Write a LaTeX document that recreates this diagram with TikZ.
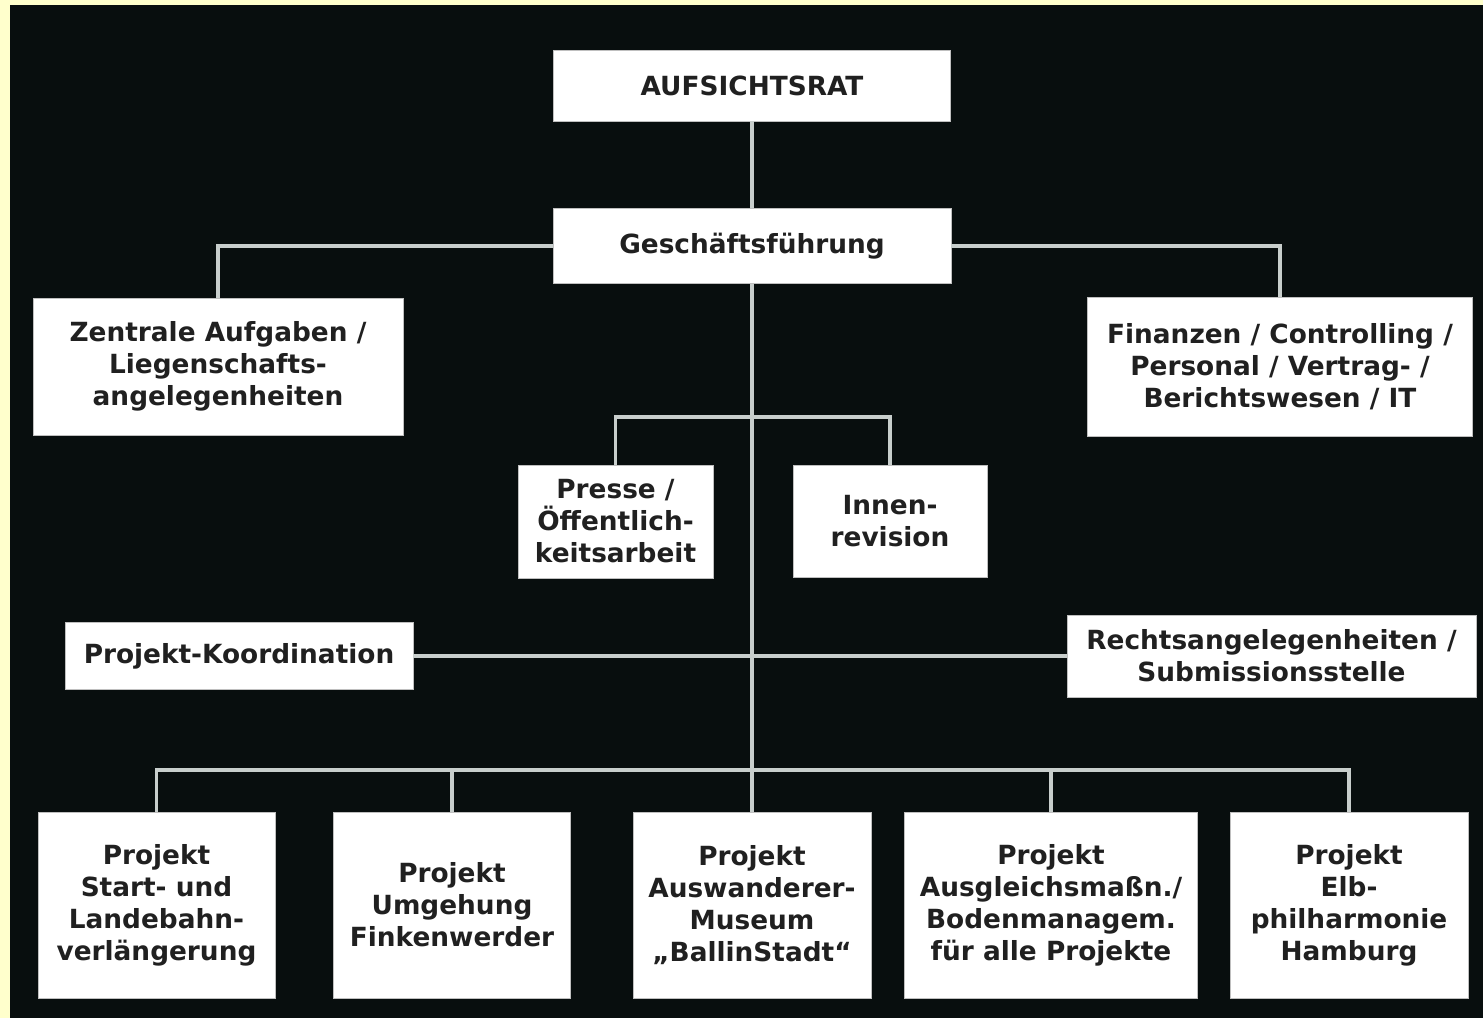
\documentclass[tikz,border=0pt]{standalone}
\usepackage{fontspec}
\setmainfont{DejaVu Sans}
\usepackage{xcolor}
\definecolor{paperyellow}{RGB}{255,255,204}
\definecolor{boardblack}{RGB}{8,14,14}
\definecolor{wiregrey}{RGB}{200,206,204}
\definecolor{inkgrey}{RGB}{32,32,32}

\begin{document}
\begin{tikzpicture}[x=0.02cm,y=-0.02cm]
  \tikzset{
    unit/.style={fill=white,draw=black!25,line width=0.4pt,inner sep=0pt,align=center,
      text=inkgrey,font=\fontsize{15}{18.2}\selectfont\bfseries},
    link/.style={draw=wiregrey,line width=0.068cm},
  }
  \fill[paperyellow] (0,0) rectangle (1483,1018);
  \fill[boardblack] (10,5) rectangle (1483,1018);
  \useasboundingbox (0,0) rectangle (1483,1018);

  % top levels
  \node[unit,minimum width=7.94cm,minimum height=1.42cm] (rat) at (752,85.5) {AUFSICHTSRAT};
  \node[unit,minimum width=7.96cm,minimum height=1.50cm] (gf) at (752,246) {Geschäftsführung};
  \node[unit,minimum width=7.40cm,minimum height=2.74cm] (zen) at (218,366.5)
    {Zentrale Aufgaben /\\Liegenschafts-\\angelegenheiten};
  \node[unit,minimum width=7.70cm,minimum height=2.78cm] (fin) at (1280,367)
    {Finanzen / Controlling /\\Personal / Vertrag- /\\Berichtswesen / IT};
  \node[unit,minimum width=3.90cm,minimum height=2.26cm] (pre) at (615.5,521.5)
    {Presse /\\Öffentlich-\\keitsarbeit};
  \node[unit,minimum width=3.88cm,minimum height=2.24cm] (inn) at (890,521) {Innen-\\revision};
  \node[unit,minimum width=6.96cm,minimum height=1.34cm] (kor) at (239,656) {Projekt-Koordination};
  \node[unit,minimum width=8.18cm,minimum height=1.64cm] (rec) at (1271.5,656)
    {Rechtsangelegenheiten /\\Submissionsstelle};

  % projects
  \node[unit,minimum width=4.74cm,minimum height=3.72cm] (p1) at (156.5,905)
    {Projekt\\Start- und\\Landebahn-\\verlängerung};
  \node[unit,minimum width=4.74cm,minimum height=3.72cm] (p2) at (452,905)
    {Projekt\\Umgehung\\Finkenwerder};
  \node[unit,minimum width=4.76cm,minimum height=3.72cm] (p3) at (752,905)
    {Projekt\\Auswanderer-\\Museum\\„BallinStadt“};
  \node[unit,minimum width=5.86cm,minimum height=3.72cm] (p4) at (1051,905)
    {Projekt\\Ausgleichsmaßn./\\Bodenmanagem.\\für alle Projekte};
  \node[unit,minimum width=4.76cm,minimum height=3.72cm] (p5) at (1349,905)
    {Projekt\\Elb-\\philharmonie\\Hamburg};

  \coordinate (pr) at (752,417);
  \coordinate (bus) at (752,770);

  \draw[link] (rat) -- (gf);
  \draw[link] (gf.west) -| (zen);
  \draw[link] (gf.east) -| (fin);
  \draw[link] (gf) -- (p3);
  \draw[link] (pre) |- (pr) -| (inn);
  \draw[link] (kor) -- (rec);
  \draw[link] (p1) |- (bus) -| (p5);
  \draw[link] (p2) -- (p2 |- bus);
  \draw[link] (p4) -- (p4 |- bus);
\end{tikzpicture}
\end{document}
